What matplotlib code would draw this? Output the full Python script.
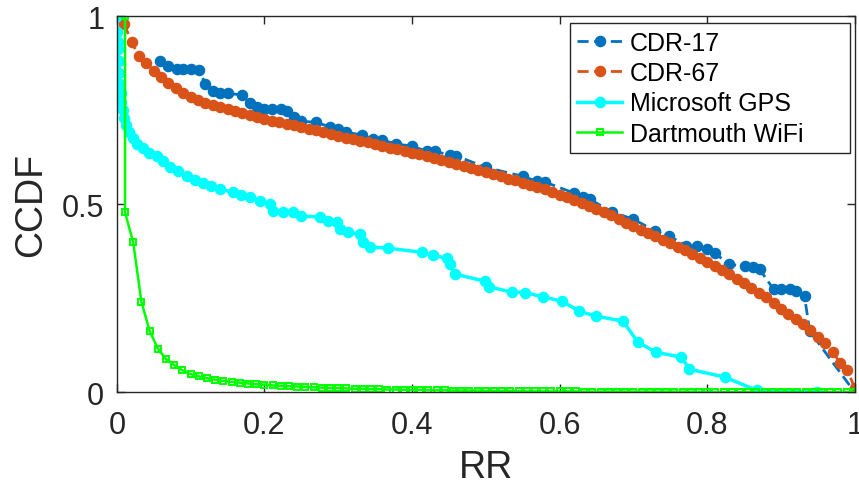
import numpy as np
import matplotlib
matplotlib.use('Agg')
import matplotlib.pyplot as plt

plt.rcParams['font.family'] = ['Liberation Sans', 'DejaVu Sans']

# CDR-17 (sparse, step-like)
cdr17_x = [0.058, 0.069, 0.081, 0.090, 0.100, 0.111, 0.120, 0.130, 0.140, 0.150,
           0.170, 0.180, 0.190, 0.200, 0.210, 0.222, 0.231, 0.240, 0.250, 0.270,
           0.289, 0.300, 0.311, 0.332, 0.347, 0.360, 0.379, 0.400, 0.420, 0.431,
           0.451, 0.460, 0.500, 0.550, 0.569, 0.580, 0.620, 0.632, 0.641, 0.671,
           0.700, 0.730, 0.749, 0.772, 0.786, 0.800, 0.810, 0.830, 0.851, 0.862,
           0.871, 0.890, 0.900, 0.912, 0.921, 0.932, 0.939, 1.000]
cdr17_y = [0.880, 0.867, 0.859, 0.859, 0.859, 0.857, 0.820, 0.800, 0.795, 0.795,
           0.790, 0.768, 0.758, 0.753, 0.753, 0.753, 0.747, 0.731, 0.720, 0.718,
           0.705, 0.700, 0.691, 0.684, 0.673, 0.670, 0.660, 0.654, 0.641, 0.641,
           0.630, 0.628, 0.598, 0.574, 0.561, 0.559, 0.529, 0.519, 0.513, 0.479,
           0.460, 0.428, 0.415, 0.389, 0.389, 0.380, 0.370, 0.340, 0.335, 0.332,
           0.327, 0.274, 0.274, 0.274, 0.269, 0.255, 0.162, 0.000]

# CDR-67 sampled every 0.01
cdr67_x = np.arange(1, 101) / 100
cdr67_y = [0.980, 0.930, 0.895, 0.875, 0.855, 0.838, 0.822, 0.808, 0.795, 0.785,
           0.778, 0.770, 0.763, 0.757, 0.752, 0.747, 0.742, 0.737, 0.732, 0.727,
           0.722, 0.718, 0.714, 0.710, 0.705, 0.701, 0.697, 0.692, 0.687, 0.682,
           0.677, 0.672, 0.668, 0.664, 0.659, 0.655, 0.650, 0.646, 0.641, 0.637,
           0.632, 0.627, 0.622, 0.617, 0.612, 0.607, 0.602, 0.596, 0.591, 0.585,
           0.580, 0.574, 0.568, 0.563, 0.557, 0.551, 0.545, 0.539, 0.532, 0.525,
           0.518, 0.511, 0.503, 0.495, 0.487, 0.479, 0.470, 0.461, 0.451, 0.441,
           0.432, 0.423, 0.414, 0.405, 0.396, 0.386, 0.377, 0.367, 0.357, 0.347,
           0.336, 0.325, 0.314, 0.302, 0.290, 0.278, 0.265, 0.252, 0.236, 0.222,
           0.208, 0.195, 0.180, 0.165, 0.148, 0.130, 0.108, 0.078, 0.060, 0.010]

# Microsoft GPS
gps_x = [0.000, 0.000, 0.002, 0.002, 0.003, 0.003, 0.004, 0.005, 0.006, 0.008,
         0.010, 0.013, 0.017, 0.022, 0.028, 0.035, 0.044, 0.054, 0.063, 0.072,
         0.083, 0.095, 0.106, 0.117, 0.128, 0.140, 0.157, 0.168, 0.180, 0.194,
         0.207, 0.211, 0.225, 0.239, 0.250, 0.275, 0.286, 0.298, 0.302, 0.313,
         0.329, 0.334, 0.343, 0.367, 0.413, 0.428, 0.447, 0.451, 0.458, 0.499,
         0.505, 0.535, 0.553, 0.578, 0.603, 0.627, 0.650, 0.686, 0.706, 0.731,
         0.765, 0.776, 0.824, 0.867, 0.949]
gps_y = [1.000, 0.957, 0.930, 0.912, 0.880, 0.850, 0.820, 0.795, 0.772, 0.750,
         0.730, 0.710, 0.692, 0.675, 0.660, 0.648, 0.637, 0.628, 0.614, 0.600,
         0.588, 0.575, 0.565, 0.557, 0.548, 0.540, 0.532, 0.525, 0.519, 0.508,
         0.500, 0.483, 0.478, 0.478, 0.468, 0.466, 0.455, 0.453, 0.434, 0.426,
         0.420, 0.400, 0.386, 0.383, 0.372, 0.364, 0.356, 0.340, 0.314, 0.295,
         0.280, 0.266, 0.265, 0.253, 0.242, 0.215, 0.202, 0.189, 0.133, 0.106,
         0.093, 0.061, 0.040, 0.005, 0.000]

# Dartmouth WiFi, 90 bins plus the starting point
wifi_x = np.concatenate([[1 / 90], np.arange(1, 91) / 90])
wifi_y = [1.000,
          0.478, 0.398, 0.240, 0.163, 0.116, 0.088, 0.072, 0.058, 0.048, 0.042,
          0.037, 0.033, 0.030, 0.027, 0.025, 0.023, 0.021, 0.020, 0.018, 0.017,
          0.016, 0.015, 0.014, 0.013, 0.012, 0.011, 0.011, 0.010, 0.009, 0.009,
          0.008, 0.008, 0.007, 0.007, 0.006, 0.006, 0.006, 0.005, 0.005, 0.005,
          0.004, 0.004, 0.004, 0.004, 0.003, 0.003, 0.003, 0.003, 0.003, 0.002,
          0.002, 0.002, 0.002, 0.002, 0.002, 0.002, 0.001, 0.001, 0.001, 0.001,
          0.001, 0.001, 0.001, 0.001, 0.001, 0.001, 0.001, 0.001, 0.001, 0.001,
          0.000, 0.000, 0.000, 0.000, 0.000, 0.000, 0.000, 0.000, 0.000, 0.000,
          0.000, 0.000, 0.000, 0.000, 0.000, 0.000, 0.000, 0.000, 0.000, 0.000]

fig = plt.figure(figsize=(8.59, 4.89), dpi=100)
ax = fig.add_axes([0.136, 0.196, 0.859, 0.769])

ax.plot(cdr17_x, cdr17_y, '--o', color='#0072BD', lw=2, ms=7.3,
        dashes=(4, 2), label='CDR-17')
ax.plot(cdr67_x, cdr67_y, '--o', color='#D95319', lw=2, ms=7.3,
        dashes=(4, 2), label='CDR-67')
ax.plot(gps_x, gps_y, '-o', color='#00FFFF', lw=2.5, ms=7.3,
        label='Microsoft GPS')
ax.plot(wifi_x, wifi_y, '-s', color='#00FF00', lw=1.8, ms=4.3,
        mfc='none', mew=1.4, label='Dartmouth WiFi')

ax.set_xlim(0, 1)
ax.set_ylim(0, 1)
ax.set_xticks([0, 0.2, 0.4, 0.6, 0.8, 1])
ax.set_xticklabels(['0', '0.2', '0.4', '0.6', '0.8', '1'])
ax.set_yticks([0, 0.5, 1])
ax.set_yticklabels(['0', '0.5', '1'])
ax.tick_params(direction='in', top=True, right=True, labelsize=22,
               length=6, width=1, colors='#262626')
ax.tick_params(axis='x', pad=13)
ax.tick_params(axis='y', pad=9)
for s in ax.spines.values():
    s.set_color('#262626')
    s.set_linewidth(1)

ax.set_xlabel('RR', fontsize=27, color='#262626', labelpad=6)
ax.set_ylabel('CCDF', fontsize=27, color='#262626', labelpad=9)

leg = ax.legend(loc='upper left', bbox_to_anchor=(0.614, 0.636, 0.379, 0.345),
                mode='expand', fontsize=18, fancybox=False,
                edgecolor='#262626', framealpha=1, handlelength=1.8,
                borderaxespad=0, labelspacing=0.25, handletextpad=0.3,
                borderpad=0.3)
leg.get_frame().set_linewidth(1)

fig.savefig('out.png', dpi=100)
